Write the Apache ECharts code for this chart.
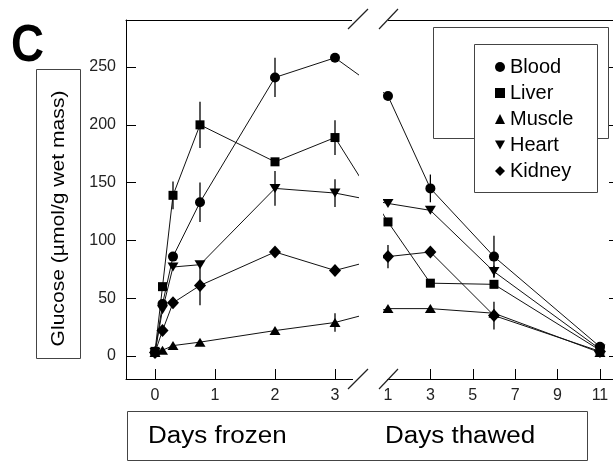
<!DOCTYPE html>
<html>
<head>
<meta charset="utf-8">
<script src="https://cdn.jsdelivr.net/npm/echarts@6/dist/echarts.min.js"></script>
<style>html,body{margin:0;padding:0;background:#fff;}#c{width:613px;height:463px;}</style>
</head>
<body>
<div id="c"></div>
<script>
// ---- data ----
var frozenDays = [0, 0.125, 0.3, 0.75, 2, 3];
var thawedDays = [1, 3, 6, 11];
var frozenTickLabels = [0, 1, 2, 3];
var thawedTickLabels = [1, 3, 5, 7, 9, 11];
var yTicks = [0, 50, 100, 150, 200, 250];
var seriesNames = ['Blood', 'Liver', 'Muscle', 'Heart', 'Kidney'];

var bloodFrozen  = [3, 45, 86, 133, 241, 258];
var bloodThawed  = [225, 145, 86, 8];
var liverFrozen  = [4, 60, 139, 200, 168, 189];
var liverThawed  = [116, 63, 62, 5];
var muscleFrozen = [3, 5, 9, 12, 22, 29];
var muscleThawed = [41, 41, 37, 3];
var heartFrozen  = [3, 40, 77, 79, 145, 141];
var heartThawed  = [132, 126, 73, 6];
var kidneyFrozen = [3, 22, 46, 61, 90, 74];
var kidneyThawed = [86, 90, 35, 4];

var bloodErrFrozen  = [0, 0, 0, 17, 17, 0];
var bloodErrThawed  = [0, 12, 18, 0];
var liverErrFrozen  = [0, 0, 12, 20, 0, 15];
var liverErrThawed  = [0, 0, 0, 0];
var muscleErrFrozen = [0, 0, 0, 0, 0, 8];
var muscleErrThawed = [0, 0, 0, 0];
var heartErrFrozen  = [0, 0, 0, 0, 15, 12];
var heartErrThawed  = [0, 0, 5, 0];
var kidneyErrFrozen = [0, 0, 0, 17, 0, 0];
var kidneyErrThawed = [10, 0, 12, 0];

// ---- broken x scale: frozen days then thawed days on a compressed scale ----
var THAW_START = 3.883, THAW_STEP = 0.3533;
function uF(d) { return d; }
function uT(t) { return THAW_START + (t - 1) * THAW_STEP; }

function buildLine(fr, th) {
  var out = [];
  frozenDays.forEach(function (d, i) { out.push([uF(d), fr[i]]); });
  thawedDays.forEach(function (t, i) { out.push([uT(t), th[i]]); });
  return out;
}
function buildErr(fr, th, efr, eth) {
  var out = [];
  frozenDays.forEach(function (d, i) { if (efr[i] > 0) out.push([uF(d), fr[i] - efr[i], fr[i] + efr[i]]); });
  thawedDays.forEach(function (t, i) { if (eth[i] > 0) out.push([uT(t), th[i] - eth[i], th[i] + eth[i]]); });
  return out;
}

var lines = {
  Blood: buildLine(bloodFrozen, bloodThawed),
  Liver: buildLine(liverFrozen, liverThawed),
  Muscle: buildLine(muscleFrozen, muscleThawed),
  Heart: buildLine(heartFrozen, heartThawed),
  Kidney: buildLine(kidneyFrozen, kidneyThawed)
};
var errs = [].concat(
  buildErr(bloodFrozen, bloodThawed, bloodErrFrozen, bloodErrThawed),
  buildErr(liverFrozen, liverThawed, liverErrFrozen, liverErrThawed),
  buildErr(muscleFrozen, muscleThawed, muscleErrFrozen, muscleErrThawed),
  buildErr(heartFrozen, heartThawed, heartErrFrozen, heartErrThawed),
  buildErr(kidneyFrozen, kidneyThawed, kidneyErrFrozen, kidneyErrThawed)
);

var symbols = {
  Blood: { symbol: 'circle', size: 10, rotate: 0 },
  Liver: { symbol: 'rect', size: 9, rotate: 0 },
  Muscle: { symbol: 'triangle', size: [11, 9], rotate: 0 },
  Heart: { symbol: 'triangle', size: [11, 9], rotate: 180 },
  Kidney: { symbol: 'diamond', size: [12, 13], rotate: 0 }
};

var labelU = frozenTickLabels.map(uF).concat(thawedTickLabels.map(uT));
var tickU = frozenTickLabels.map(uF).concat(thawedTickLabels.slice(1).map(uT));

var FONT = 'Liberation Sans, Arial, sans-serif';
var chart = echarts.init(document.getElementById('c'), null, { renderer: 'canvas' });

var series = seriesNames.map(function (n) {
  return {
    name: n, type: 'line', data: lines[n],
    symbol: symbols[n].symbol, symbolSize: symbols[n].size, symbolRotate: symbols[n].rotate,
    showSymbol: true, clip: true,
    itemStyle: { color: '#000' },
    lineStyle: { color: '#111', width: 1 },
    z: 3
  };
});
series.push({
  name: 'err', type: 'custom', data: errs, z: 4,
  encode: { x: 0, y: [1, 2] },
  renderItem: function (params, api) {
    var p1 = api.coord([api.value(0), api.value(1)]);
    var p2 = api.coord([api.value(0), api.value(2)]);
    return { type: 'line', shape: { x1: p1[0], y1: p1[1], x2: p2[0], y2: p2[1] }, style: { stroke: '#000', lineWidth: 1.3 } };
  }
});

var XMIN = (126 - 155) / 60, XMAX = (613 - 155) / 60;
var option = {
  animation: false,
  backgroundColor: '#fff',
  textStyle: { fontFamily: FONT },
  grid: { left: 126, right: 0, top: 20, bottom: 84, containLabel: false, outerBoundsMode: 'none' },
  xAxis: [{
    type: 'value', position: 'bottom', min: XMIN, max: XMAX,
    axisLine: { show: true, onZero: false, lineStyle: { color: '#000', width: 1 } },
    axisTick: { show: true, inside: true, length: 10, customValues: tickU, lineStyle: { color: '#000' } },
    axisLabel: {
      show: true, customValues: labelU, margin: 9, fontSize: 16, color: '#222', fontFamily: FONT,
      formatter: function (v) {
        if (v < 3.5) return String(Math.round(v));
        return String(Math.round((v - THAW_START) / THAW_STEP + 1));
      }
    },
    splitLine: { show: false }
  }, {
    type: 'value', position: 'top', min: XMIN, max: XMAX,
    axisLine: { show: true, onZero: false, lineStyle: { color: '#000', width: 1 } },
    axisTick: { show: false }, axisLabel: { show: false }, splitLine: { show: false }
  }],
  yAxis: [{
    type: 'value', position: 'left', min: -19.9, max: 290.7,
    axisLine: { show: true, onZero: false, lineStyle: { color: '#000', width: 1 } },
    axisTick: { show: true, inside: true, length: 10, customValues: yTicks, lineStyle: { color: '#000' } },
    axisLabel: { show: true, customValues: yTicks, margin: 10, fontSize: 16, color: '#222', fontFamily: FONT },
    splitLine: { show: false }
  }, {
    type: 'value', position: 'right', min: -19.9, max: 290.7,
    axisLine: { show: false, onZero: false },
    axisTick: { show: true, inside: true, length: 4, customValues: yTicks, lineStyle: { color: '#000' } },
    axisLabel: { show: false }, splitLine: { show: false }
  }],
  legend: {
    orient: 'vertical', left: 495, top: 57, padding: 0,
    itemWidth: 10, itemHeight: 10, itemGap: 6,
    textStyle: { fontSize: 20, color: '#000', fontFamily: FONT, lineHeight: 20 },
    data: [
      { name: 'Blood', icon: 'circle' },
      { name: 'Liver', icon: 'rect' },
      { name: 'Muscle', icon: 'triangle' },
      { name: 'Heart', icon: 'path://M0,0L10,0L5,9Z' },
      { name: 'Kidney', icon: 'diamond' }
    ],
    z: 20
  },
  graphic: [
    // axis break masks
    { type: 'rect', z: 100, shape: { x: 359, y: 21, width: 24, height: 357 }, style: { fill: '#fff' } },
    { type: 'rect', z: 100, shape: { x: 352, y: 15, width: 36, height: 9 }, style: { fill: '#fff' } },
    { type: 'rect', z: 100, shape: { x: 353, y: 375, width: 34, height: 9 }, style: { fill: '#fff' } },
    // break slashes
    { type: 'line', z: 101, shape: { x1: 348, y1: 29, x2: 368, y2: 9 }, style: { stroke: '#222', lineWidth: 1.2 } },
    { type: 'line', z: 101, shape: { x1: 379, y1: 29, x2: 398, y2: 9 }, style: { stroke: '#222', lineWidth: 1.2 } },
    { type: 'line', z: 101, shape: { x1: 348, y1: 389, x2: 368, y2: 369 }, style: { stroke: '#222', lineWidth: 1.2 } },
    { type: 'line', z: 101, shape: { x1: 379, y1: 389, x2: 398, y2: 369 }, style: { stroke: '#222', lineWidth: 1.2 } },
    // legend boxes
    { type: 'rect', z: 10, shape: { x: 433.5, y: 27.5, width: 175, height: 111 }, style: { fill: '#fff', stroke: '#444', lineWidth: 1 } },
    { type: 'rect', z: 11, shape: { x: 474.5, y: 44.5, width: 123, height: 148 }, style: { fill: '#fff', stroke: '#444', lineWidth: 1 } },
    // panel letter
    { type: 'text', z: 50, x: 11, y: 47, scaleX: 0.88,
      style: { text: 'C', font: 'bold 52px ' + FONT, fill: '#000', verticalAlign: 'middle' } },
    // y-axis title box
    { type: 'rect', z: 50, shape: { x: 36.5, y: 69.5, width: 44, height: 289 }, style: { fill: '#fff', stroke: '#444', lineWidth: 1 } },
    { type: 'text', z: 51, x: 59, y: 218.5, rotation: Math.PI / 2, scaleX: 1.11,
      style: { text: 'Glucose (µmol/g wet mass)', font: '19px ' + FONT, fill: '#000', align: 'center', verticalAlign: 'middle' } },
    // x-axis title box
    { type: 'rect', z: 50, shape: { x: 127.5, y: 411.5, width: 460, height: 49 }, style: { fill: '#fff', stroke: '#444', lineWidth: 1 } },
    { type: 'text', z: 51, x: 148, y: 437, scaleX: 1.13,
      style: { text: 'Days frozen', font: '23px ' + FONT, fill: '#000', verticalAlign: 'middle' } },
    { type: 'text', z: 51, x: 385, y: 437, scaleX: 1.13,
      style: { text: 'Days thawed', font: '23px ' + FONT, fill: '#000', verticalAlign: 'middle' } }
  ],
  series: series
};
chart.setOption(option);
</script>
</body>
</html>
